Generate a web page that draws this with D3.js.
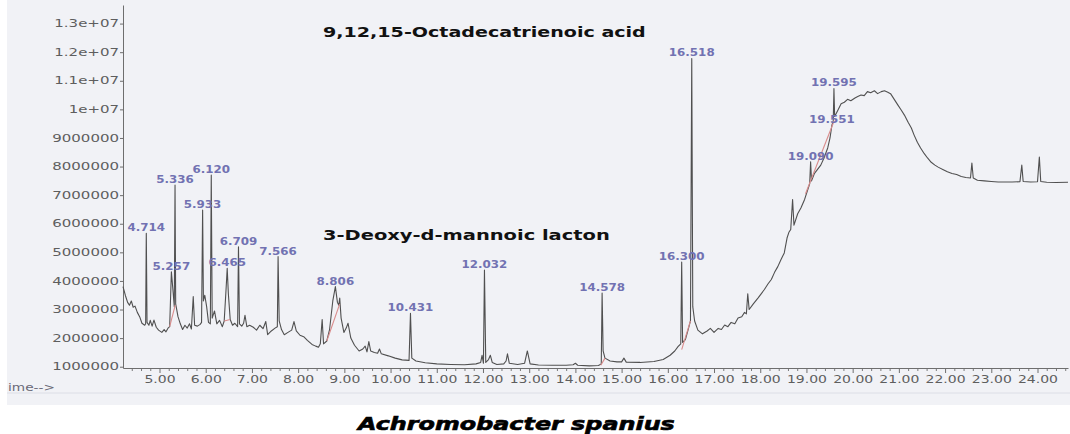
<!DOCTYPE html>
<html><head><meta charset="utf-8">
<script src="https://cdn.jsdelivr.net/npm/d3@7"></script>
<style>
html,body{margin:0;padding:0;background:#fff;}
svg{display:block;}
</style></head><body>
<svg id="chart" width="1070" height="434"></svg>
<script>
// ---------- data ----------
const yTicks = [1e6, 2e6, 3e6, 4e6, 5e6, 6e6, 7e6, 8e6, 9e6, 1e7, 1.1e7, 1.2e7, 1.3e7];
const yTickLabels = ["1000000","2000000","3000000","4000000","5000000","6000000","7000000","8000000","9000000","1e+07","1.1e+07","1.2e+07","1.3e+07"];
const xTicks = [5,6,7,8,9,10,11,12,13,14,15,16,17,18,19,20,21,22,23,24];
const xTickLabels = ["5.00","6.00","7.00","8.00","9.00","10.00","11.00","12.00","13.00","14.00","15.00","16.00","17.00","18.00","19.00","20.00","21.00","22.00","23.00","24.00"];

const peakTimes   = [4.714, 5.257, 5.336, 5.933, 6.120, 6.465, 6.709, 7.566, 8.806, 10.431, 12.032, 14.578, 16.300, 16.518, 19.090, 19.551, 19.595];
const peakHeights = [5.67e6, 4.32e6, 7.35e6, 6.48e6, 7.70e6, 4.44e6, 5.19e6, 4.85e6, 3.80e6, 2.87e6, 4.38e6, 3.58e6, 4.66e6, 11.78e6, 8.17e6, 9.45e6, 10.73e6];

const compoundNotes = ["9,12,15-Octadecatrienoic acid", "3-Deoxy-d-mannoic lacton"];
const organism = "Achromobacter spanius";
const xAxisTitle = "ime-->";

// [retention time (min), abundance]
const trace = [
[4.21,3.80e6],[4.26,3.50e6],[4.31,3.25e6],[4.35,3.15e6],[4.39,3.30e6],[4.43,3.08e6],[4.47,3.12e6],[4.52,2.90e6],
[4.57,2.75e6],[4.62,2.52e6],[4.68,2.45e6],[4.70,2.50e6],[4.714,5.67e6],[4.73,2.55e6],[4.77,2.45e6],[4.80,2.62e6],
[4.84,2.42e6],[4.88,2.63e6],[4.93,2.38e6],[4.98,2.28e6],[5.05,2.20e6],[5.10,2.30e6],[5.14,2.22e6],[5.19,2.36e6],
[5.22,2.40e6],[5.257,4.32e6],[5.29,3.70e6],[5.32,3.10e6],[5.336,7.35e6],[5.35,3.20e6],[5.40,2.75e6],[5.45,2.50e6],
[5.50,2.30e6],[5.55,2.45e6],[5.60,2.35e6],[5.65,2.50e6],[5.69,2.32e6],[5.73,3.45e6],[5.76,2.45e6],[5.82,2.42e6],
[5.88,2.48e6],[5.91,2.55e6],[5.933,6.48e6],[5.95,3.30e6],[5.98,3.50e6],[6.02,3.10e6],[6.06,2.55e6],[6.10,2.50e6],
[6.120,7.70e6],[6.14,2.70e6],[6.19,2.95e6],[6.24,2.50e6],[6.30,2.62e6],[6.36,2.40e6],[6.40,2.60e6],[6.44,3.70e6],
[6.465,4.44e6],[6.49,3.55e6],[6.53,2.65e6],[6.58,2.45e6],[6.63,2.52e6],[6.69,2.40e6],[6.709,5.19e6],[6.73,2.50e6],
[6.78,2.42e6],[6.82,2.52e6],[6.85,2.80e6],[6.89,2.40e6],[6.95,2.45e6],[7.03,2.38e6],[7.10,2.28e6],[7.17,2.45e6],
[7.24,2.33e6],[7.30,2.58e6],[7.34,2.12e6],[7.42,2.25e6],[7.50,2.35e6],[7.55,2.40e6],[7.566,4.85e6],[7.59,2.60e6],
[7.64,2.30e6],[7.70,2.12e6],[7.78,2.20e6],[7.86,2.28e6],[7.91,2.58e6],[7.96,2.25e6],[8.04,2.10e6],[8.12,2.05e6],
[8.20,1.92e6],[8.30,1.78e6],[8.38,1.72e6],[8.44,1.68e6],[8.48,1.80e6],[8.52,2.65e6],[8.55,1.80e6],[8.62,1.90e6],
[8.68,2.30e6],[8.75,3.30e6],[8.806,3.80e6],[8.85,3.25e6],[8.88,3.15e6],[8.90,3.40e6],[8.93,2.70e6],[8.99,2.20e6],
[9.04,2.35e6],[9.08,2.52e6],[9.14,2.00e6],[9.22,1.75e6],[9.32,1.55e6],[9.40,1.62e6],[9.45,1.72e6],[9.49,1.52e6],
[9.53,1.88e6],[9.57,1.55e6],[9.65,1.50e6],[9.72,1.47e6],[9.76,1.62e6],[9.80,1.45e6],[9.95,1.38e6],[10.10,1.30e6],
[10.25,1.24e6],[10.40,1.22e6],[10.431,2.87e6],[10.46,1.30e6],[10.55,1.20e6],[10.75,1.14e6],[11.00,1.10e6],[11.30,1.08e6],
[11.60,1.07e6],[11.85,1.10e6],[11.95,1.15e6],[11.98,1.40e6],[12.01,1.12e6],[12.032,4.38e6],[12.06,1.15e6],[12.12,1.25e6],
[12.16,1.40e6],[12.20,1.15e6],[12.30,1.08e6],[12.45,1.10e6],[12.50,1.20e6],[12.53,1.45e6],[12.57,1.12e6],[12.75,1.08e6],
[12.90,1.12e6],[12.96,1.55e6],[13.02,1.10e6],[13.20,1.06e6],[13.50,1.05e6],[13.80,1.05e6],[13.95,1.07e6],[14.00,1.12e6],
[14.05,1.05e6],[14.30,1.03e6],[14.50,1.04e6],[14.56,1.10e6],[14.578,3.58e6],[14.60,1.55e6],[14.64,1.30e6],[14.75,1.20e6],
[14.90,1.17e6],[15.00,1.17e6],[15.05,1.30e6],[15.10,1.16e6],[15.40,1.15e6],[15.70,1.18e6],[15.90,1.25e6],[16.05,1.40e6],
[16.15,1.55e6],[16.22,1.70e6],[16.28,1.80e6],[16.300,4.66e6],[16.32,1.85e6],[16.38,1.95e6],[16.44,2.30e6],[16.49,2.60e6],
[16.518,11.78e6],[16.54,3.10e6],[16.58,2.60e6],[16.65,2.28e6],[16.75,2.15e6],[16.85,2.25e6],[16.92,2.34e6],[17.00,2.20e6],
[17.09,2.34e6],[17.16,2.30e6],[17.23,2.46e6],[17.30,2.40e6],[17.37,2.55e6],[17.45,2.50e6],[17.52,2.70e6],[17.60,2.75e6],
[17.66,2.90e6],[17.70,2.85e6],[17.73,3.55e6],[17.76,3.00e6],[17.85,3.20e6],[17.95,3.40e6],[18.02,3.55e6],[18.09,3.70e6],
[18.17,3.90e6],[18.24,4.05e6],[18.31,4.30e6],[18.38,4.50e6],[18.45,4.75e6],[18.52,4.98e6],[18.58,5.50e6],[18.62,5.70e6],
[18.66,5.80e6],[18.70,6.85e6],[18.73,5.95e6],[18.81,6.35e6],[18.88,6.55e6],[18.96,6.85e6],[19.04,7.25e6],[19.07,7.40e6],
[19.090,8.17e6],[19.11,7.50e6],[19.17,7.75e6],[19.24,7.90e6],[19.31,8.05e6],[19.38,8.30e6],[19.46,8.65e6],[19.51,9.00e6],
[19.551,9.45e6],[19.58,9.60e6],[19.595,10.73e6],[19.61,9.75e6],[19.68,9.97e6],[19.75,10.20e6],[19.82,10.25e6],[19.89,10.35e6],
[19.96,10.30e6],[20.05,10.40e6],[20.11,10.45e6],[20.18,10.50e6],[20.25,10.48e6],[20.32,10.62e6],[20.39,10.58e6],[20.47,10.65e6],
[20.54,10.55e6],[20.62,10.62e6],[20.69,10.65e6],[20.76,10.60e6],[20.82,10.55e6],[20.90,10.35e6],[20.98,10.15e6],[21.05,9.98e6],
[21.12,9.80e6],[21.20,9.55e6],[21.27,9.35e6],[21.33,9.10e6],[21.40,8.85e6],[21.47,8.65e6],[21.55,8.45e6],[21.62,8.30e6],
[21.70,8.15e6],[21.78,8.05e6],[21.85,7.98e6],[21.95,7.90e6],[22.05,7.82e6],[22.15,7.76e6],[22.25,7.72e6],[22.35,7.65e6],
[22.45,7.62e6],[22.55,7.60e6],[22.58,8.12e6],[22.61,7.60e6],[22.70,7.52e6],[22.85,7.50e6],[23.00,7.48e6],[23.15,7.46e6],
[23.30,7.46e6],[23.45,7.46e6],[23.62,7.47e6],[23.66,8.05e6],[23.69,7.48e6],[23.85,7.46e6],[24.00,7.47e6],[24.04,8.33e6],
[24.07,7.48e6],[24.20,7.45e6],[24.40,7.44e6],[24.66,7.45e6]
];

// integration baselines drawn in red: [t1, v1, t2, v2]
const integrationBaselines = [
  [5.22, 2.40e6, 5.34, 3.15e6],
  [6.40, 2.60e6, 6.53, 2.65e6],
  [8.62, 1.90e6, 8.90, 3.20e6],
  [14.55, 1.05e6, 14.64, 1.30e6],
  [16.30, 1.60e6, 16.49, 2.60e6],
  [18.98, 7.05e6, 19.60, 9.60e6]
];

// ---------- drawing ----------
const svg = d3.select('#chart');
const FONT = "'DejaVu Sans', 'Liberation Sans', Arial, sans-serif";

// scanned paper background
svg.append('rect').attr('x', 7).attr('y', 0).attr('width', 1063).attr('height', 405).attr('fill', '#f1f2f6');
svg.append('line').attr('x1', 7).attr('x2', 1070).attr('y1', 393).attr('y2', 393)
  .attr('stroke', '#dcdee6').attr('stroke-width', 1);

const x = d3.scaleLinear().domain([4.21, 24.66]).range([123, 1068]);
const y = d3.scaleLinear().domain([955000, 13.65e6]).range([368, 5]);

function stretch(sel, s) {
  sel.each(function () {
    const t = d3.select(this);
    const ax = +t.attr('x') || 0;
    t.attr('transform', `translate(${ax},0) scale(${s},1) translate(${-ax},0)`);
  });
}
function fitWidth(sel, w) {
  const len = sel.node().getComputedTextLength();
  stretch(sel, w / len);
}

// y axis
const gy = svg.append('g').attr('transform', 'translate(123,0)')
  .call(d3.axisLeft(y).tickValues(yTicks).tickFormat((d, i) => yTickLabels[i]).tickSize(3).tickSizeOuter(0).tickPadding(1));
gy.select('.domain').attr('stroke', '#6e6e6e');
gy.selectAll('.tick line').attr('stroke', '#6e6e6e');
gy.selectAll('.tick text').attr('font-family', FONT).attr('font-size', 10).attr('fill', '#5e5e5e');
stretch(gy.selectAll('.tick text'), 1.5);

// x axis minor ticks
const gxm = svg.append('g').attr('transform', 'translate(0,368)')
  .call(d3.axisBottom(x).tickValues(x.ticks(100).filter(d => Math.abs(d - Math.round(d)) > 1e-6)).tickSize(3).tickSizeOuter(0).tickFormat(''));
gxm.select('.domain').remove();
gxm.selectAll('.tick line').attr('stroke', '#7a7a7a');

// x axis major
const gx = svg.append('g').attr('transform', 'translate(0,368)')
  .call(d3.axisBottom(x).tickValues(xTicks).tickFormat((d, i) => xTickLabels[i]).tickSize(5).tickSizeOuter(0).tickPadding(3));
gx.select('.domain').attr('stroke', '#6e6e6e');
gx.selectAll('.tick line').attr('stroke', '#6e6e6e');
gx.selectAll('.tick text').attr('font-family', FONT).attr('font-size', 10).attr('fill', '#5e5e5e');
stretch(gx.selectAll('.tick text'), 1.4);

// axis title fragment
const xt = svg.append('text').attr('x', 8).attr('y', 391).attr('font-family', FONT).attr('font-size', 10)
  .attr('fill', '#6a6a78').text(xAxisTitle);
fitWidth(xt, 47);

// trace
const line = d3.line().x(d => x(d[0])).y(d => y(d[1]));
svg.append('path').datum(trace).attr('d', line).attr('fill', 'none')
  .attr('stroke', '#505050').attr('stroke-width', 1.1).attr('stroke-linejoin', 'round');

// integration baselines
svg.append('g').selectAll('line').data(integrationBaselines).join('line')
  .attr('x1', d => x(d[0])).attr('y1', d => y(d[1]))
  .attr('x2', d => x(d[2])).attr('y2', d => y(d[3]))
  .attr('stroke', '#d98c8c').attr('stroke-width', 1.1);

// peak labels
const pl = svg.append('g').selectAll('text').data(peakTimes).join('text')
  .attr('x', d => x(d))
  .attr('y', (d, i) => y(peakHeights[i]) - 2)
  .attr('text-anchor', 'middle')
  .attr('font-family', FONT).attr('font-size', 11).attr('font-weight', 'bold')
  .attr('fill', '#7272b2')
  .text(d => d.toFixed(3));
stretch(pl, 1.08);

// compound annotations
const a1 = svg.append('text').attr('x', 323).attr('y', 37).attr('font-family', FONT)
  .attr('font-size', 14).attr('font-weight', 'bold').attr('fill', '#111').text(compoundNotes[0]);
fitWidth(a1, 323);
const a2 = svg.append('text').attr('x', 323).attr('y', 240).attr('font-family', FONT)
  .attr('font-size', 14).attr('font-weight', 'bold').attr('fill', '#111').text(compoundNotes[1]);
fitWidth(a2, 287);

// organism caption
const cap = svg.append('text').attr('x', 358).attr('y', 430).attr('font-family', FONT)
  .attr('font-size', 17).attr('font-weight', 'bold').attr('font-style', 'italic')
  .attr('fill', '#000').attr('stroke', '#000').attr('stroke-width', 0.6).text(organism);
fitWidth(cap, 317);
</script>
</body></html>
